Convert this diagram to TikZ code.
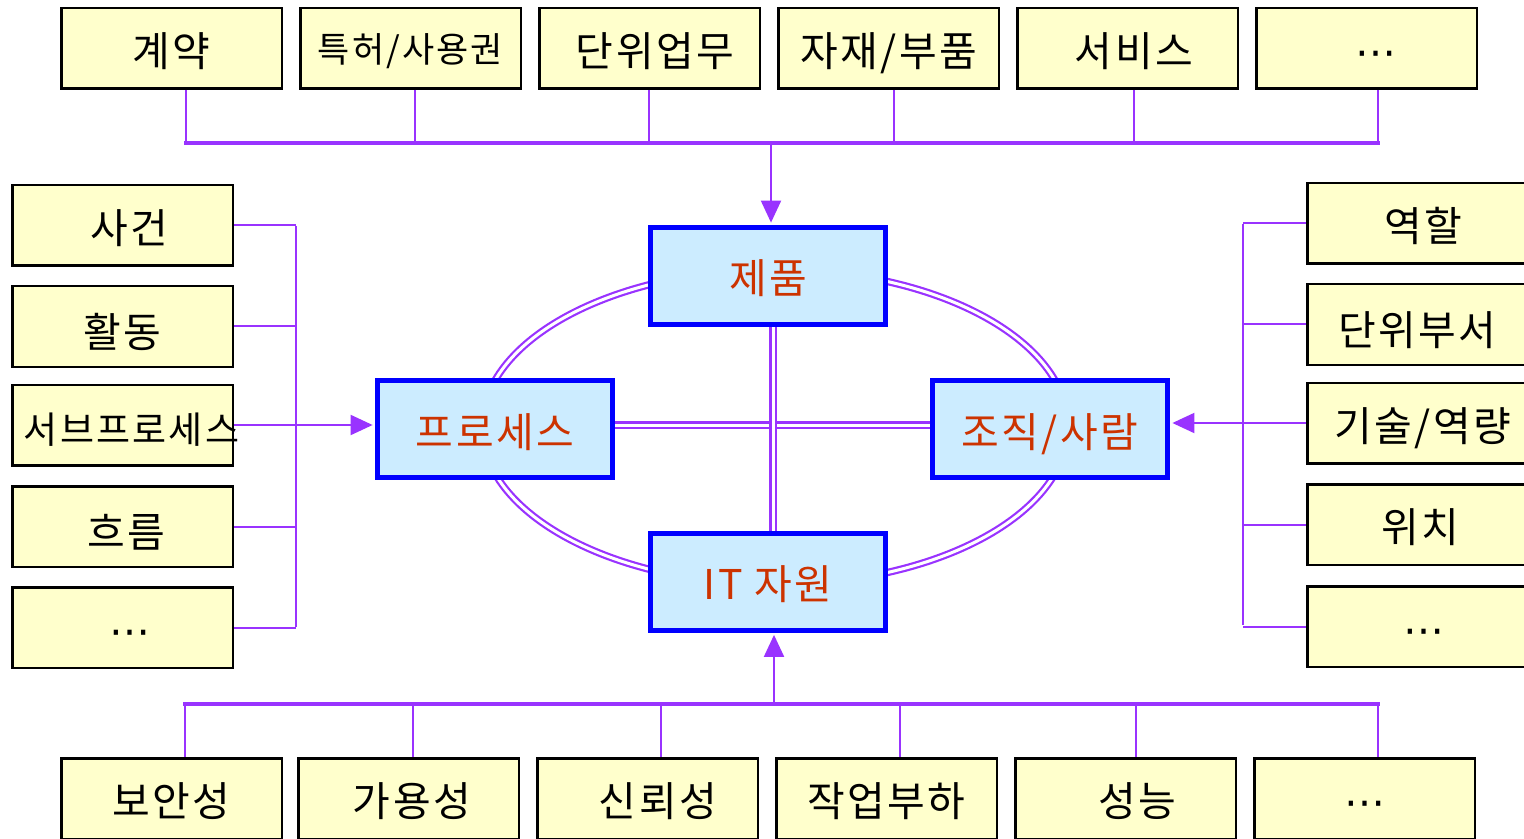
\documentclass[tikz,border=0pt]{standalone}
\usepackage{fontspec}
\setmainfont{Noto Sans CJK KR}[LetterSpace=6]
\newfontfamily\dejavu{DejaVu Sans}
\usetikzlibrary{arrows.meta}
\definecolor{boxfill}{HTML}{FFFFCC}
\definecolor{ctrfill}{HTML}{CCECFF}
\definecolor{ctrtext}{HTML}{CC3300}
\definecolor{conn}{HTML}{9933FF}
\definecolor{ctrborder}{HTML}{0000FF}
\pgfdeclarelayer{bg}
\pgfsetlayers{bg,main}
\newcommand\shiftx[2]{\hspace*{#1pt}#2}
\newcommand\dotsx{{\dejavu ⋯}}
\tikzset{
 ybox/.style={draw=black, line width=1.25pt, fill=boxfill, minimum width=110.25pt, minimum height=40.25pt,
   inner sep=0pt, text height=18pt, text depth=0pt, font=\fontsize{20.5pt}{24pt}\selectfont},
 cbox/.style={draw=ctrborder, line width=2.5pt, fill=ctrfill, minimum width=117.5pt, minimum height=48.5pt,
   inner sep=0pt, text height=18pt, text depth=0pt, text=ctrtext, font=\fontsize{20.5pt}{24pt}\selectfont},
 link/.style={draw=conn, line width=1pt},
 bus/.style={draw=conn, line width=1.75pt},
 arr/.style={draw=conn, line width=1pt, shorten >=1.2pt, -{Triangle[length=11pt,width=10pt]}},
 dbl/.style={draw=conn, double=white, line width=1.1pt, double distance=1.5pt},
}
\begin{document}
\begin{tikzpicture}[x=0.5pt,y=-0.5pt]
\clip (0,0) rectangle (1524,839);

% centre boxes
\node[cbox] (prod) at (768,276) {제품};
\node[cbox] (proc) at (495,429) {프로세스};
\node[cbox] (org) at (1050,429) {조직/사람};
\node[cbox] (itr) at (768,581.5) {IT 자원};

\coordinate (ec) at (775,427);
\coordinate (vx) at (773,425);
\begin{pgfonlayer}{bg}
\fill[white] (0,0) rectangle (1524,839);
\draw[dbl] (ec) ellipse [x radius=146.5pt, y radius=78.75pt];
\draw[dbl] (proc.east |- vx) -- (org.west |- vx);
\draw[dbl] (prod.south -| vx) -- (itr.north -| vx);
\end{pgfonlayer}

% top row
\node[ybox] (t1) at (171.5,48.5) {계약};
\node[ybox] (t2) at (410.5,48.5) {\raisebox{2pt}{\fontsize{17.5pt}{20pt}\selectfont 특허/사용권}};
\node[ybox] (t3) at (649.5,48.5) {\shiftx{5.5}{단위업무}};
\node[ybox] (t4) at (888.5,48.5) {자재/부품};
\node[ybox] (t5) at (1127.5,48.5) {\shiftx{6.5}{서비스}};
\node[ybox] (t6) at (1366.5,48.5) {\shiftx{9.5}{\dotsx}};

\coordinate (tb1) at (186,143);
\coordinate (tb2) at (415,143);
\coordinate (tb3) at (649,143);
\coordinate (tb4) at (894,143);
\coordinate (tb5) at (1134,143);
\coordinate (tb6) at (1378,143);
\coordinate (tbm) at (771,143);
\foreach \i in {1,...,6} {\draw[link] (t\i.south -| tb\i) -- (tb\i);}
\draw[bus] ([xshift=-1pt]tb1) -- ([xshift=1pt]tb6);
\draw[arr] (tbm) -- (prod.north -| tbm);

% left column
\node[ybox] (l1) at (122.5,225.5) {\shiftx{6.5}{사건}};
\node[ybox] (l2) at (122.5,326.5) {\raisebox{-1.7pt}{활동}};
\node[ybox] (l3) at (122.5,425) {\makebox[0pt]{\shiftx{9}{\fontsize{18.5pt}{22pt}\selectfont 서브프로세스}}};
\node[ybox] (l4) at (122.5,526.5) {\shiftx{3.5}{\raisebox{-1.5pt}{흐름}}};
\node[ybox] (l5) at (122.5,627.5) {\shiftx{7.5}{\dotsx}};

\coordinate (lvt) at (296,226);
\coordinate (lvb) at (296,627);
\foreach \i in {1,2,4,5} {\draw[link] (l\i.east) -- (l\i.east -| lvt);}
\draw[link] (lvt) -- (lvb);
\draw[arr] (l3.east) -- (l3.east -| proc.west);

% right column
\node[ybox] (r1) at (1417.5,223.5) {\shiftx{5.5}{역할}};
\node[ybox] (r2) at (1417.5,324.5) {\raisebox{-1.5pt}{단위부서}};
\node[ybox] (r3) at (1417.5,423) {\shiftx{5.5}{기술/역량}};
\node[ybox] (r4) at (1417.5,524.5) {\shiftx{2.5}{위치}};
\node[ybox] (r5) at (1417.5,626.5) {\shiftx{6.5}{\dotsx}};

\coordinate (rvt) at (1243,224);
\coordinate (rvb) at (1243,625);
\foreach \i in {1,2,4,5} {\draw[link] (r\i.west) -- (r\i.west -| rvt);}
\draw[link] (rvt) -- (rvb);
\draw[arr] (r3.west) -- (r3.west -| org.east);

% bottom row
\node[ybox] (b1) at (171.5,798.5) {보안성};
\node[ybox] (b2) at (408.5,798.5) {\shiftx{3.5}{가용성}};
\node[ybox] (b3) at (647.5,798.5) {\shiftx{10.5}{신뢰성}};
\node[ybox] (b4) at (886.5,798.5) {작업부하};
\node[ybox] (b5) at (1125.5,798.5) {\shiftx{11.5}{성능}};
\node[ybox] (b6) at (1364.5,798.5) {\dotsx};

\coordinate (bb1) at (185,704);
\coordinate (bb2) at (413,704);
\coordinate (bb3) at (661,704);
\coordinate (bb4) at (900,704);
\coordinate (bb5) at (1136,704);
\coordinate (bb6) at (1378,704);
\coordinate (bbm) at (774,704);
\foreach \i in {1,...,6} {\draw[link] (b\i.north -| bb\i) -- (bb\i);}
\draw[bus] ([xshift=-1pt]bb1) -- ([xshift=1pt]bb6);
\draw[arr] (bbm) -- (itr.south -| bbm);
\end{tikzpicture}
\end{document}
